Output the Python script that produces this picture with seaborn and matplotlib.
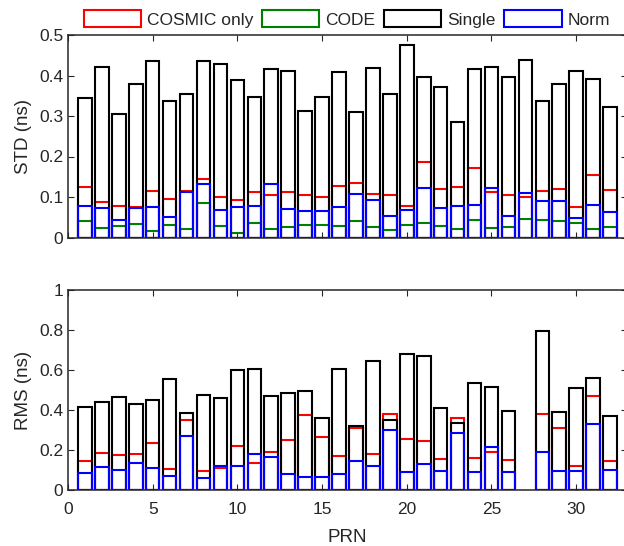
import numpy as np
import pandas as pd
import matplotlib
matplotlib.use("Agg")
import matplotlib.pyplot as plt
from matplotlib.patches import Patch
import seaborn as sns

nan = np.nan
prn = list(range(1, 33))

# STD (ns), top panel
cosmic_std = [0.125, 0.087, 0.078, 0.076, 0.114, 0.094, 0.116, 0.144, 0.101, 0.092, 0.112, 0.105,
              0.113, 0.106, 0.100, 0.126, 0.134, 0.107, 0.106, 0.079, 0.186, 0.120, 0.125, 0.172,
              0.112, 0.105, 0.101, 0.115, 0.120, 0.075, 0.155, 0.117]
code_std = [0.040, 0.024, 0.029, 0.033, 0.016, 0.031, 0.020, 0.086, 0.029, 0.012, 0.036, 0.021,
            0.026, 0.031, 0.030, 0.028, 0.040, 0.027, 0.019, 0.032, 0.037, 0.028, 0.021, 0.044,
            0.023, 0.026, 0.046, 0.044, 0.040, 0.036, 0.021, 0.026]
single_std = [0.345, 0.422, 0.305, 0.379, 0.436, 0.336, 0.354, 0.437, 0.428, 0.390, 0.348, 0.416,
              0.410, 0.312, 0.347, 0.409, 0.310, 0.419, 0.354, 0.475, 0.397, 0.371, 0.284, 0.417,
              0.420, 0.397, 0.438, 0.336, 0.378, 0.412, 0.392, 0.323]
norm_std = [0.078, 0.074, 0.044, 0.073, 0.075, 0.051, 0.113, 0.133, 0.068, 0.075, 0.077, 0.133,
            0.070, 0.065, 0.066, 0.076, 0.108, 0.092, 0.054, 0.068, 0.122, 0.073, 0.077, 0.081,
            0.123, 0.054, 0.111, 0.089, 0.089, 0.048, 0.080, 0.062]

# RMS (ns), bottom panel (no PRN 27)
cosmic_rms = [0.145, 0.187, 0.177, 0.182, 0.233, 0.105, 0.352, 0.095, 0.112, 0.220, 0.135, 0.188,
              0.248, 0.373, 0.265, 0.172, 0.312, 0.182, 0.378, 0.255, 0.243, 0.155, 0.358, 0.162,
              0.188, 0.150, nan, 0.380, 0.308, 0.120, 0.470, 0.145]
single_rms = [0.415, 0.440, 0.463, 0.432, 0.452, 0.553, 0.383, 0.477, 0.460, 0.598, 0.605, 0.470,
              0.483, 0.497, 0.362, 0.607, 0.322, 0.647, 0.348, 0.682, 0.672, 0.410, 0.335, 0.533,
              0.517, 0.397, nan, 0.793, 0.390, 0.510, 0.562, 0.372]
norm_rms = [0.087, 0.113, 0.100, 0.133, 0.112, 0.070, 0.268, 0.062, 0.122, 0.118, 0.182, 0.167,
            0.080, 0.067, 0.067, 0.080, 0.143, 0.122, 0.298, 0.092, 0.130, 0.095, 0.287, 0.092,
            0.215, 0.090, nan, 0.188, 0.095, 0.095, 0.330, 0.102]

labels = ["COSMIC only", "CODE", "Single", "Norm"]
colors = ["#ff0000", "#008000", "#000000", "#0000ff"]

sns.set_style("ticks")
plt.rcParams["font.family"] = ["Liberation Sans", "DejaVu Sans"]
plt.rcParams["font.size"] = 12.5

fig = plt.figure(figsize=(6.24, 5.46), dpi=100)
ax1 = fig.add_axes([68 / 624, 1 - 237.5 / 546, 559 / 624, 202.5 / 546])
ax2 = fig.add_axes([68 / 624, 1 - 490 / 546, 559 / 624, 200 / 546])


def draw(ax, series, cols):
    for vals, c in zip(series, cols):
        df = pd.DataFrame({"prn": prn, "val": vals}).dropna()
        sns.barplot(data=df, x="prn", y="val", native_scale=True, fill=False,
                    color=c, width=0.8, linewidth=1.5, errorbar=None, ax=ax)


draw(ax1, [cosmic_std, code_std, single_std, norm_std], colors)
draw(ax2, [cosmic_rms, single_rms, norm_rms], [colors[0], colors[2], colors[3]])

for ax in (ax1, ax2):
    ax.set_xlim(0, 33)
    ax.set_xticks(range(0, 35, 5))
    ax.tick_params(direction="in", top=True, right=True, length=4, width=0.8,
                   colors="#262626", labelsize=12.5)
    ax.tick_params(axis="x", pad=9)
    for s in ax.spines.values():
        s.set_visible(True)
        s.set_color("#262626")
        s.set_linewidth(1.1)
    ax.set_xlabel("")

ax1.set_ylim(0, 0.5)
ax1.set_yticks([0, 0.1, 0.2, 0.3, 0.4, 0.5])
ax1.set_yticklabels(["0", "0.1", "0.2", "0.3", "0.4", "0.5"])
ax1.set_xticklabels([])
ax1.set_ylabel("STD (ns)", fontsize=13.5, labelpad=5)

ax2.set_ylim(0, 1)
ax2.set_yticks([0, 0.2, 0.4, 0.6, 0.8, 1])
ax2.set_yticklabels(["0", "0.2", "0.4", "0.6", "0.8", "1"])
ax2.set_xticklabels([str(v) for v in range(0, 35, 5)])
ax2.set_ylabel("RMS (ns)", fontsize=13.5, labelpad=5)
ax2.set_xlabel("PRN", fontsize=13.5, labelpad=8)

handles = [Patch(facecolor="white", edgecolor=c, linewidth=1.5) for c in colors]
fig.legend(handles, labels, loc="center", bbox_to_anchor=(0.556, 0.965), ncol=4,
           frameon=False, handlelength=3.3, handleheight=1.1, handletextpad=0.35,
           columnspacing=0.5, fontsize=12.5, borderaxespad=0, borderpad=0)

fig.savefig("out.png", dpi=100)
